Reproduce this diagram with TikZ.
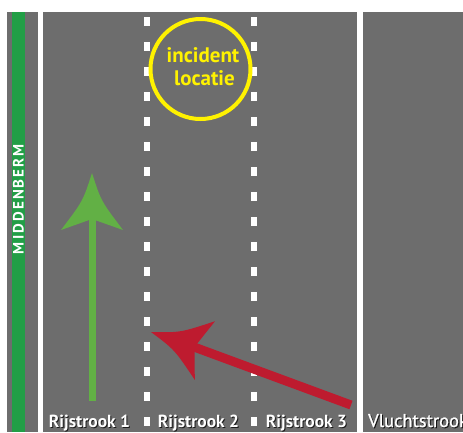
\documentclass[tikz,border=0pt]{standalone}
\usepackage{fontspec}
\setmainfont{PT Sans}
\definecolor{asphalt}{HTML}{6D6D6D}
\definecolor{berm}{HTML}{229E46}
\definecolor{incident}{HTML}{FFF200}
\definecolor{goarrow}{HTML}{62B045}
\definecolor{stoparrow}{HTML}{BE1B2F}
\tikzset{
  marking/.style={fill=white},
  lanedash/.style={draw=white, line width=6pt, dash pattern=on 9pt off 16pt},
  lanetext/.style={text=white, font=\bfseries\fontsize{17.5}{19}\selectfont, inner sep=0pt},
  laneshade/.style={text=black, opacity=0.75, font=\bfseries\fontsize{17.5}{19}\selectfont, inner sep=0pt},
  inctext/.style={text=incident, font=\bfseries\fontsize{21}{24}\selectfont, inner sep=0pt, anchor=base},
  shoulder/.style={font=\fontsize{18.5}{20}\selectfont\addfontfeature{FakeBold=1.2}, inner sep=0pt, anchor=base west}
}
\begin{document}
\begin{tikzpicture}[x=1pt,y=-1pt]
\useasboundingbox (0,0) rectangle (463,432);
\fill[white] (0,0) rectangle (463,432);
\begin{scope}
  \clip (7,12) rectangle (463,432);
  % road surface, central reservation and markings
  \fill[asphalt] (7,12) rectangle (463,432);
  \fill[berm] (11.5,12) rectangle (25,432);
  \fill[marking] (38,12) rectangle (43,432);
  \fill[marking] (357,12) rectangle (363,432);
  \draw[lanedash] (147,17) -- (147,440);
  \draw[lanedash] (254,17) -- (254,440);

  % incident location
  \node[circle, draw=incident, line width=4pt, minimum size=100pt, inner sep=0pt] (inc) at (200.5,69) {};
  \node[inctext] (inctxt1) at (203,62) {incident};
  \node[inctext] (inctxt2) at (204.5,85.5) {locatie};

  % central reservation label
  \node[rotate=90, text=white, font=\bfseries\fontsize{15}{16}\selectfont\addfontfeature{LetterSpace=14}, inner sep=0pt] (berm) at (18.5,199) {MIDDENBERM};

  % straight-on arrow in lane 1
  \coordinate (gtail) at (92,401);
  \coordinate (gjoin) at (92,215);
  \coordinate (gtip) at (92,173);
  \draw[goarrow, line width=7pt] (gtail) -- (gjoin);
  \begin{scope}[shift={(gtip)}, rotate=90, x=1pt, y=1pt]
    \fill[goarrow] (0,0) .. controls (-28,-9) .. (-57,-31) -- (-46,0) -- (-57,31) .. controls (-28,9) .. (0,0) -- cycle;
  \end{scope}

  % merging arrow from lane 3 towards lane 1
  \coordinate (rtail) at (351,405);
  \coordinate (rjoin) at (190,345.5);
  \coordinate (rtip) at (151,332);
  \draw[stoparrow, line width=9pt] (rtail) -- (rjoin);
  \begin{scope}[shift={(rtip)}, rotate=161, x=1pt, y=1pt]
    \fill[stoparrow] (0,0) .. controls (-28,-9) .. (-57,-31) -- (-46,0) -- (-57,31) .. controls (-28,9) .. (0,0) -- cycle;
  \end{scope}

  % lane names
  \foreach \n/\x/\t in {l1/89.5/Rijstrook 1, l2/198.5/Rijstrook 2, l3/306.5/Rijstrook 3} {
    \node[laneshade, anchor=base] (\n s) at (\x+1,428) {\t};
    \node[lanetext, anchor=base] (\n) at (\x,427) {\t};
  }
  \node[shoulder, text=black, opacity=0.75] (l4s) at (369,428) {Vluchtstrook};
  \node[shoulder, text=white] (l4) at (368,427) {Vluchtstrook};
\end{scope}
\end{tikzpicture}
\end{document}
